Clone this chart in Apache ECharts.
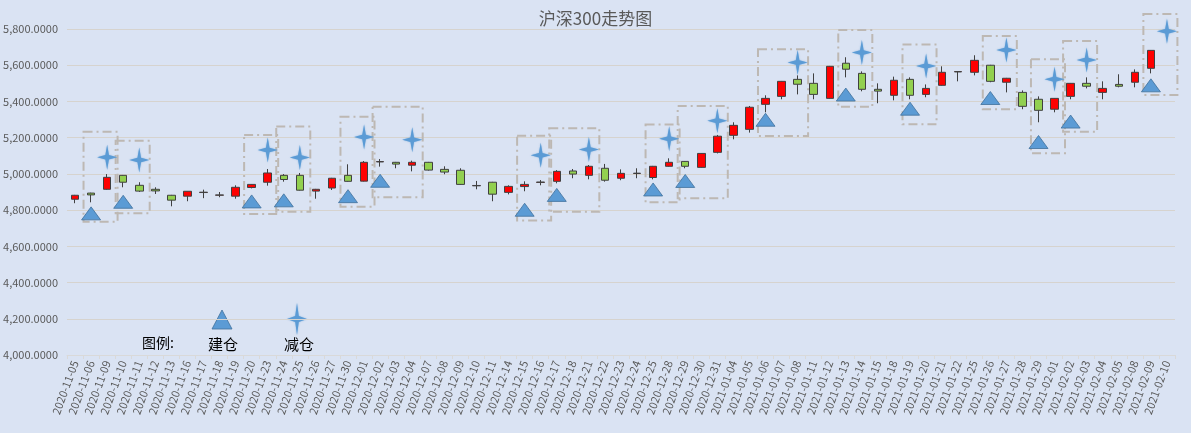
<!DOCTYPE html>
<html lang="zh">
<head>
    <meta charset="UTF-8">
    <title>沪深300走势图</title>
    <script src="https://cdn.jsdelivr.net/npm/echarts@6/dist/echarts.min.js"></script>
    <style>
        html, body {
            margin: 0;
            padding: 0;
            background-color: #DAE3F3;
        }
        #main {
            width: 1191px;
            height: 433px;
        }
    </style>
</head>
<body>
    <div id="main"></div>

    <script>
        // 交易日期
        const dates = [
            '2020-11-05', '2020-11-06', '2020-11-09', '2020-11-10', '2020-11-11', '2020-11-12', '2020-11-13',
            '2020-11-16', '2020-11-17', '2020-11-18', '2020-11-19', '2020-11-20', '2020-11-23', '2020-11-24',
            '2020-11-25', '2020-11-26', '2020-11-27', '2020-11-30', '2020-12-01', '2020-12-02', '2020-12-03',
            '2020-12-04', '2020-12-07', '2020-12-08', '2020-12-09', '2020-12-10', '2020-12-11', '2020-12-14',
            '2020-12-15', '2020-12-16', '2020-12-17', '2020-12-18', '2020-12-21', '2020-12-22', '2020-12-23',
            '2020-12-24', '2020-12-25', '2020-12-28', '2020-12-29', '2020-12-30', '2020-12-31', '2021-01-04',
            '2021-01-05', '2021-01-06', '2021-01-07', '2021-01-08', '2021-01-11', '2021-01-12', '2021-01-13',
            '2021-01-14', '2021-01-15', '2021-01-18', '2021-01-19', '2021-01-20', '2021-01-21', '2021-01-22',
            '2021-01-25', '2021-01-26', '2021-01-27', '2021-01-28', '2021-01-29', '2021-02-01', '2021-02-02',
            '2021-02-03', '2021-02-04', '2021-02-05', '2021-02-08', '2021-02-09', '2021-02-10'
        ];

        // K线 [开盘, 收盘, 最低, 最高]
        const kline = [
            [4860, 4882, 4838, 4884], [4894, 4884, 4843, 4896], [4915, 4981, 4912, 4999], [4992, 4954, 4926, 4994],
            [4937, 4905, 4900, 4954], [4915, 4906, 4889, 4926], [4882, 4855, 4821, 4884], [4877, 4904, 4849, 4905],
            [4897, 4899, 4866, 4913], [4882, 4884, 4871, 4900], [4877, 4926, 4863, 4937], [4925, 4942, 4920, 4944],
            [4954, 5005, 4935, 5027], [4992, 4969, 4957, 4999], [4992, 4910, 4908, 5005], [4905, 4915, 4863, 4917],
            [4922, 4976, 4911, 4978], [4992, 4959, 4957, 5053], [4960, 5064, 4958, 5071], [5066, 5068, 5040, 5082],
            [5064, 5054, 5031, 5066], [5048, 5064, 5014, 5073], [5064, 5021, 5018, 5066], [5025, 5010, 4998, 5042],
            [5020, 4942, 4940, 5031], [4934, 4936, 4915, 4961], [4954, 4888, 4849, 4956], [4898, 4931, 4887, 4937],
            [4930, 4942, 4904, 4959], [4953, 4955, 4937, 4966], [4959, 5014, 4948, 5021], [5016, 4999, 4976, 5027],
            [4992, 5042, 4970, 5049], [5031, 4965, 4957, 5055], [4976, 5003, 4965, 5025], [5002, 5004, 4976, 5031],
            [4980, 5042, 4970, 5044], [5042, 5064, 5040, 5086], [5069, 5042, 5031, 5071], [5036, 5113, 5034, 5115],
            [5119, 5208, 5113, 5215], [5213, 5268, 5191, 5285], [5246, 5368, 5228, 5375], [5384, 5417, 5340, 5434],
            [5428, 5511, 5412, 5513], [5522, 5495, 5439, 5544], [5500, 5439, 5412, 5555], [5417, 5594, 5415, 5596],
            [5611, 5578, 5533, 5644], [5555, 5467, 5456, 5566], [5467, 5457, 5390, 5500], [5434, 5517, 5406, 5537],
            [5522, 5434, 5412, 5533], [5439, 5472, 5423, 5494], [5489, 5561, 5487, 5594], [5563, 5565, 5511, 5567],
            [5561, 5627, 5544, 5655], [5600, 5511, 5506, 5602], [5506, 5528, 5450, 5530], [5450, 5373, 5357, 5461],
            [5412, 5351, 5285, 5428], [5357, 5417, 5340, 5419], [5428, 5500, 5412, 5502], [5500, 5484, 5472, 5533],
            [5450, 5472, 5412, 5511], [5494, 5484, 5478, 5550], [5506, 5561, 5478, 5577], [5583, 5682, 5555, 5684],
            '-'
        ];

        // 建仓点 [日期序号, 价位]
        const buyPoints = [
            [1, 4782], [3, 4846], [11, 4848], [13, 4854], [17, 4877], [19, 4962], [28, 4802], [30, 4884],
            [36, 4914], [38, 4961], [43, 5299], [48, 5438], [52, 5360], [57, 5419], [60, 5176], [62, 5289],
            [67, 5489]
        ];

        // 减仓点 [日期序号, 价位]
        const sellPoints = [
            [2, 5092], [4, 5077], [12, 5132], [14, 5090], [18, 5203], [21, 5189], [29, 5103], [32, 5135],
            [37, 5194], [40, 5293], [45, 5615], [49, 5670], [53, 5596], [58, 5684], [61, 5523], [63, 5629],
            [68, 5787]
        ];

        // 交易区间虚线框 [起始序号, 结束序号, 下沿, 上沿]
        const tradeBoxes = [
            [1, 2, 4736, 5233], [3, 4, 4782, 5183], [11, 12, 4779, 5215], [13, 14, 4791, 5261],
            [17, 18, 4819, 5316], [19, 21, 4871, 5371], [28, 29, 4742, 5211], [30, 32, 4791, 5252],
            [36, 37, 4843, 5273], [38, 40, 4865, 5375], [43, 45, 5209, 5688], [48, 49, 5371, 5794],
            [52, 53, 5274, 5715], [57, 58, 5357, 5761], [60, 61, 5114, 5633], [62, 63, 5233, 5734],
            [67, 68, 5436, 5883]
        ];

        const yMin = 4000;
        const yMax = 5800;
        const yStep = 200;

        const blue = '#5B9BD5';
        // 四角星
        const starPath = 'path://M50,0 L59,41 L100,50 L59,59 L50,100 L41,59 L0,50 L41,41 Z';
        const font = '"Noto Sans CJK SC", "Noto Sans", sans-serif';

        function fmt(v) {
            const parts = v.toFixed(4).split('.');
            return parts[0].replace(/\B(?=(\d{3})+(?!\d))/g, ',') + '.' + parts[1];
        }

        // 图例用的星形
        function starPoints(cx, cy, w, h) {
            const k = 0.09;
            return [
                [cx, cy - h / 2], [cx + w * k, cy - h * k], [cx + w / 2, cy], [cx + w * k, cy + h * k],
                [cx, cy + h / 2], [cx - w * k, cy + h * k], [cx - w / 2, cy], [cx - w * k, cy - h * k]
            ];
        }

        const chart = echarts.init(document.getElementById('main'));

        const option = {
            backgroundColor: '#DAE3F3',
            animation: false,
            title: {
                text: '沪深300走势图',
                left: 'center',
                top: 5,
                textStyle: {
                    fontFamily: font,
                    fontSize: 17,
                    fontWeight: 'normal',
                    color: '#595959'
                }
            },
            grid: {
                left: 67,
                right: 16,
                top: 29,
                bottom: 78
            },
            xAxis: {
                type: 'category',
                data: dates,
                boundaryGap: true,
                axisLine: { lineStyle: { color: '#D9D9D9' } },
                axisTick: { show: true, length: 4, lineStyle: { color: '#D9D9D9' } },
                axisLabel: {
                    interval: 0,
                    rotate: 70,
                    fontFamily: font,
                    fontSize: 11,
                    color: '#595959',
                    margin: 6
                },
                splitLine: { show: false }
            },
            yAxis: {
                type: 'value',
                min: yMin,
                max: yMax,
                interval: yStep,
                axisLine: { show: false },
                axisTick: { show: false },
                axisLabel: {
                    fontFamily: font,
                    fontSize: 11,
                    color: '#595959',
                    margin: 9,
                    formatter: fmt
                },
                splitLine: { lineStyle: { color: '#D6D3CE', width: 1 } }
            },
            series: [
                {
                    name: '沪深300',
                    type: 'candlestick',
                    data: kline,
                    barWidth: 8,
                    itemStyle: {
                        color: '#FF0000',
                        color0: '#92D050',
                        borderColor: '#404040',
                        borderColor0: '#404040',
                        borderColorDoji: '#404040',
                        borderWidth: 1
                    },
                    z: 3
                },
                {
                    name: '区间',
                    type: 'custom',
                    data: tradeBoxes,
                    clip: false,
                    silent: true,
                    z: 2,
                    renderItem: function (params, api) {
                        const bw = api.size([1, 0])[0];
                        const a = api.coord([api.value(0), api.value(3)]);
                        const b = api.coord([api.value(1), api.value(2)]);
                        const x = a[0] - 0.47 * bw;
                        return {
                            type: 'rect',
                            shape: {
                                x: x,
                                y: a[1],
                                width: b[0] + 0.65 * bw - x,
                                height: b[1] - a[1]
                            },
                            style: {
                                fill: 'none',
                                stroke: '#BDB8B3',
                                lineWidth: 2,
                                lineDash: [9, 4, 2, 4]
                            }
                        };
                    }
                },
                {
                    name: '建仓',
                    type: 'scatter',
                    data: buyPoints,
                    symbol: 'triangle',
                    symbolSize: [19, 13],
                    itemStyle: {
                        color: blue,
                        borderColor: '#41719C',
                        borderWidth: 0.8,
                        opacity: 1
                    },
                    z: 4
                },
                {
                    name: '减仓',
                    type: 'scatter',
                    data: sellPoints,
                    symbol: starPath,
                    symbolSize: [20, 25],
                    itemStyle: {
                        color: blue,
                        shadowBlur: 1.5,
                        shadowColor: 'rgba(91,155,213,0.7)',
                        opacity: 1
                    },
                    z: 4
                }
            ],
            graphic: [
                {
                    type: 'text',
                    left: 142,
                    top: 336,
                    style: { text: '图例:', font: '14px ' + font, fill: '#000000' }
                },
                {
                    type: 'polygon',
                    shape: { points: [[222, 310], [232, 329], [212, 329]] },
                    style: { fill: blue, stroke: '#41719C', lineWidth: 0.8 }
                },
                {
                    type: 'text',
                    left: 208,
                    top: 337,
                    style: { text: '建仓', font: '15px ' + font, fill: '#000000' }
                },
                {
                    type: 'polygon',
                    shape: { points: starPoints(297, 319, 20, 32) },
                    style: { fill: blue, shadowBlur: 1.5, shadowColor: 'rgba(91,155,213,0.7)' }
                },
                {
                    type: 'text',
                    left: 284,
                    top: 337,
                    style: { text: '减仓', font: '15px ' + font, fill: '#000000' }
                }
            ]
        };

        chart.setOption(option);
    </script>
</body>
</html>
